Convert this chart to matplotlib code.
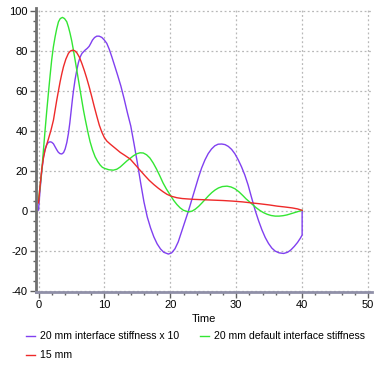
import matplotlib
matplotlib.use("Agg")
import matplotlib.pyplot as plt
from matplotlib.ticker import MultipleLocator

plt.rcParams['font.family'] = ['Liberation Sans', 'DejaVu Sans']
plt.rcParams['axes.unicode_minus'] = False

# Series 1: 20 mm interface stiffness x 10 (purple)
t_purple = [0, 0.25, 0.5, 0.75, 1.0, 1.25, 1.5, 1.76, 2.0, 2.27, 2.5, 2.77, 3.0, 3.25, 3.53,
            3.8, 4.04, 4.3, 4.54, 4.75, 4.95, 5.15, 5.3, 5.55, 5.81, 6.05, 6.31, 6.6, 7.07,
            7.4, 7.68, 7.95, 8.18, 8.5, 8.84, 9.2, 9.6, 10.0, 10.36, 10.75, 11.12, 11.6,
            12.0, 12.5, 13.0, 13.5, 14.0, 14.5, 15.0, 15.5, 16.0, 16.5, 17.0, 17.5, 18.0,
            18.5, 19.0, 19.7, 20.2, 20.7, 21.2, 21.7, 22.2, 22.75, 23.25, 23.75, 24.25,
            24.75, 25.25, 25.75, 26.25, 26.75, 27.25, 27.8, 28.3, 28.8, 29.3, 29.8, 30.3,
            30.8, 31.3, 31.8, 32.3, 32.9, 33.4, 33.9, 34.4, 34.9, 35.4, 35.9, 36.5, 37.2,
            37.8, 38.3, 38.8, 39.3, 39.7, 40.0, 40.0]
v_purple = [0.4, 11, 20, 27, 31, 33.2, 34.3, 34.6, 34.4, 33.6, 32.2, 30.6, 29.4, 28.7, 28.5,
            29.2, 31, 34.3, 38.8, 44, 50, 56, 60, 65.8, 70.5, 74.2, 77, 78.9, 80.5,
            81.4, 82.4, 84, 85.5, 86.8, 87.5, 87.5, 86.9, 85.5, 83.9, 80.8, 77.2, 72.2,
            68, 62.5, 56, 49, 42.5, 33.5, 24, 14, 4.5, -3, -8.5, -13, -16.5,
            -19, -20.7, -21.6, -21, -19, -15.5, -10.5, -5.5, 0, 5.5, 11, 16.5,
            21.5, 25.5, 28.7, 31, 32.6, 33.4, 33.5, 33.2, 32.3, 30.8, 28.6, 25.6,
            22.1, 18, 13, 7, 0, -5, -9.5, -13.3, -16.3, -18.6, -20.1, -21, -21.3,
            -20.7, -19.5, -17.8, -15.8, -13.8, -12.1, 0]

# Series 2: 20 mm default interface stiffness (green)
t_green = [0, 0.25, 0.5, 0.75, 1.0, 1.25, 1.5, 1.75, 2.0, 2.25, 2.52, 2.77, 3.03, 3.3, 3.63,
           3.95, 4.29, 4.55, 4.79, 5.05, 5.3, 5.55, 5.81, 6.06, 6.31, 6.57, 6.82, 7.07,
           7.32, 7.57, 7.83, 8.2, 8.59, 8.97, 9.35, 9.7, 10.1, 10.7, 11.35, 11.9, 12.4,
           12.9, 13.4, 13.9, 14.4, 14.9, 15.4, 15.9, 16.4, 16.9, 17.4, 17.9, 18.4, 18.9,
           19.4, 20.0, 20.5, 21.0, 21.5, 22.0, 22.75, 23.3, 23.8, 24.3, 24.8, 25.3, 25.8,
           26.3, 26.8, 27.3, 27.9, 28.6, 29.2, 29.8, 30.4, 31.0, 31.5, 32.1, 32.6, 33.1,
           33.6, 34.1, 34.7, 35.3, 35.9, 36.5, 37.1, 37.7, 38.3, 38.9, 39.5, 40.0]
v_green = [5.4, 12.5, 20.4, 30.5, 40.5, 50, 58.9, 67.5, 75.6, 82, 87.2, 91.3, 94.7, 96.3, 96.9,
           96.3, 94.7, 92, 88.9, 85, 80.5, 75.6, 70.5, 65.5, 60.5, 55.4, 50.5, 46.2,
           42.2, 38.3, 34.6, 30.5, 27.1, 24.8, 23.0, 21.8, 21.2, 20.6, 20.4, 20.9, 22,
           23.5, 25, 26.3, 27.6, 28.6, 29.1, 29.0, 28.1, 26.5, 24, 21, 17.6, 14,
           11, 7.9, 5.3, 3.2, 1.5, 0.3, -0.5, -0.1, 0.9, 2.3, 4, 5.8, 7.6,
           9.2, 10.5, 11.5, 12.2, 12.4, 12, 11.1, 9.6, 7.7, 6, 4.3, 2.8, 1.4,
           0.2, -0.8, -1.7, -2.3, -2.6, -2.6, -2.4, -2, -1.4, -0.8, -0.2, 0.3]

# Series 3: 15 mm (red)
t_red = [0, 0.25, 0.5, 0.75, 1.0, 1.5, 1.9, 2.27, 2.52, 2.77, 3.03, 3.28, 3.53, 3.79, 4.15,
         4.54, 4.85, 5.2, 5.5, 5.81, 6.2, 6.57, 6.95, 7.32, 7.7, 8.08, 8.46, 8.84, 9.22,
         9.6, 9.98, 10.36, 10.9, 11.6, 12.4, 13.1, 13.9, 14.6, 15.4, 16.1, 16.8, 17.5,
         18.2, 18.9, 19.5, 20.2, 21.0, 21.8, 22.6, 23.5, 25.0, 26.5, 28.0, 29.5, 31.0,
         32.1, 33.5, 35.0, 36.2, 37.3, 38.5, 39.3, 40.0]
v_red = [4, 13, 21, 26.5, 30.5, 36, 40.5, 45.5, 50.5, 55.5, 60.2, 64.7, 68.6, 72.2, 76,
         78.9, 80.1, 80.5, 80.2, 79.2, 77, 73.9, 70.3, 66.4, 62, 57.2, 52.2, 47.5, 43,
         39.5, 36.8, 35, 33.4, 31.5, 29.3, 27.8, 26, 23.4, 20.4, 17.8, 15.3, 13.2,
         11.3, 9.6, 8.3, 7.3, 6.6, 6.2, 6, 5.8, 5.6, 5.4, 5.2, 4.9, 4.5,
         4.1, 3.6, 3, 2.4, 2, 1.5, 1.0, 0.3]

labels = ["20 mm interface stiffness x 10", "20 mm default interface stiffness", "15 mm"]
colors = ["#8040f0", "#33e633", "#ee2a2a"]

fig = plt.figure(figsize=(3.9, 3.77), dpi=100)
W, H = 390, 377
ax = fig.add_axes([36 / W, (H - 292) / H, (372 - 36) / W, (292 - 8) / H])

l1, = ax.plot(t_purple, v_purple, color=colors[0], lw=1.0)
l2, = ax.plot(t_green, v_green, color=colors[1], lw=1.0)
l3, = ax.plot(t_red, v_red, color=colors[2], lw=1.0)

ax.set_xlim(-0.38, 50.6)
ax.set_ylim(-40.6, 101.6)
ax.xaxis.set_major_locator(MultipleLocator(10))
ax.xaxis.set_minor_locator(MultipleLocator(2))
ax.yaxis.set_major_locator(MultipleLocator(20))
ax.yaxis.set_minor_locator(MultipleLocator(5))

ax.grid(True, which='major', linestyle=(0, (1.5, 2)), color='#b8b8b8', lw=0.9)
for s in ['top', 'right']:
    ax.spines[s].set_visible(False)
ax.spines['left'].set_color('#707070')
ax.spines['left'].set_linewidth(2.0)
ax.spines['bottom'].set_color('#9090a8')
ax.spines['bottom'].set_linewidth(2.0)
ax.tick_params(which='major', length=4, width=1, color='#606060', labelsize=8, pad=2)
ax.tick_params(which='minor', length=2.5, width=1, color='#606060')
ax.set_xlabel("Time", fontsize=8, labelpad=3)

fig.legend([l1, l3, l2], [labels[0], labels[2], labels[1]], loc='upper left',
           bbox_to_anchor=(22 / W, 1 - 327 / H),
           ncol=2, frameon=False, fontsize=7.6, handlelength=0.8, handletextpad=0.5,
           columnspacing=2.0, labelspacing=0.85, borderaxespad=0)

fig.savefig("out.png", dpi=100)
